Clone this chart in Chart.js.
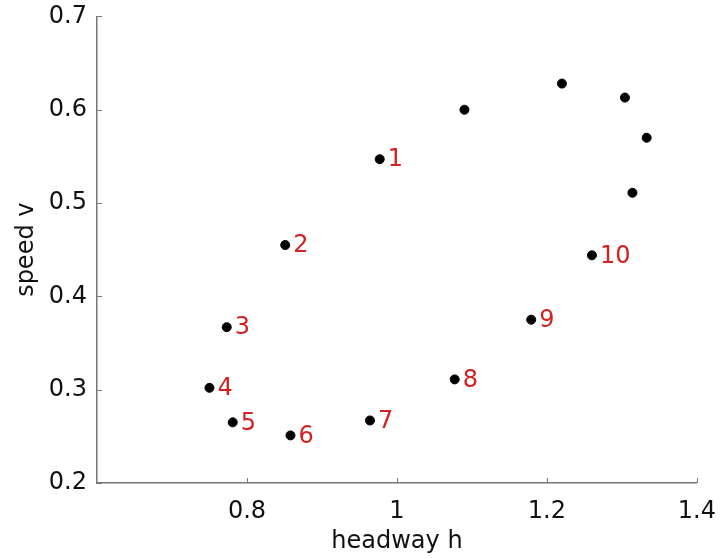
<!DOCTYPE html>
<html>
<head>
<meta charset="utf-8">
<script src="https://cdn.jsdelivr.net/npm/chart.js@4/dist/chart.umd.min.js"></script>
<style>
  html, body { margin: 0; padding: 0; background: #fff; }
  #wrap { width: 722px; height: 559px; position: relative; }
</style>
</head>
<body>
<div id="wrap"><canvas id="c" width="722" height="559"></canvas></div>
<script>
const headway = [0.977, 0.851, 0.773, 0.750, 0.781, 0.858, 0.964, 1.077, 1.179, 1.260, 1.314, 1.333, 1.304, 1.220, 1.090];
const speed   = [0.547, 0.455, 0.367, 0.302, 0.265, 0.251, 0.267, 0.311, 0.375, 0.444, 0.511, 0.570, 0.613, 0.628, 0.600];
const pointLabels = ["1", "2", "3", "4", "5", "6", "7", "8", "9", "10", "", "", "", "", ""];
const xTicks = [0.8, 1, 1.2, 1.4];
const yTicks = [0.2, 0.3, 0.4, 0.5, 0.6, 0.7];

const FONT = "'DejaVu Sans', sans-serif";
const FS = 24;

const labelPlugin = {
  id: 'pointLabels',
  afterDatasetsDraw(chart) {
    const ctx = chart.ctx;
    const meta = chart.getDatasetMeta(0);
    ctx.save();
    ctx.fillStyle = '#d42020';
    ctx.font = FS + 'px ' + FONT;
    ctx.textAlign = 'left';
    ctx.textBaseline = 'middle';
    meta.data.forEach((el, i) => {
      if (pointLabels[i]) ctx.fillText(pointLabels[i], el.x + 8, el.y + 1);
    });
    ctx.restore();
  }
};

const tickPlugin = {
  id: 'inTicks',
  afterDraw(chart) {
    const ctx = chart.ctx;
    const xs = chart.scales.x, ys = chart.scales.y;
    const ca = chart.chartArea;
    ctx.save();
    ctx.strokeStyle = '#777';
    ctx.lineWidth = 1;
    ctx.beginPath();
    xTicks.forEach(v => {
      const px = Math.round(xs.getPixelForValue(v)) + 0.5;
      ctx.moveTo(px, ca.bottom); ctx.lineTo(px, ca.bottom - 5);
    });
    yTicks.forEach(v => {
      const py = Math.round(ys.getPixelForValue(v)) + 0.5;
      ctx.moveTo(ca.left, py); ctx.lineTo(ca.left + 5, py);
    });
    ctx.stroke();
    ctx.restore();
  }
};

new Chart(document.getElementById('c'), {
  type: 'scatter',
  data: {
    datasets: [{
      data: headway.map((h, i) => ({ x: h, y: speed[i] })),
      backgroundColor: '#000',
      borderColor: '#000',
      pointRadius: 4.5,
      pointHoverRadius: 4.5
    }]
  },
  options: {
    responsive: false,
    animation: false,
    devicePixelRatio: 1,
    layout: { padding: { top: 11, right: 17, left: 0, bottom: 0 } },
    plugins: { legend: { display: false }, tooltip: { enabled: false } },
    scales: {
      x: {
        type: 'linear', min: 0.6, max: 1.4,
        afterBuildTicks(s) { s.ticks = xTicks.map(v => ({ value: v })); },
        afterFit(s) { s.height = 76; },
        grid: { display: false },
        border: { display: true, color: '#777', width: 1.5 },
        ticks: {
          font: { family: FONT, size: FS }, color: '#111', padding: 6,
          maxRotation: 0, autoSkip: false,
          callback: v => String(v)
        },
        title: { display: true, text: 'headway h', font: { family: FONT, size: FS }, color: '#111', padding: { top: 0, bottom: 3 } }
      },
      y: {
        type: 'linear', min: 0.2, max: 0.7,
        afterBuildTicks(s) { s.ticks = yTicks.map(v => ({ value: v })); },
        afterFit(s) { s.width = 97; },
        grid: { display: false },
        border: { display: true, color: '#777', width: 1.5 },
        ticks: {
          font: { family: FONT, size: FS }, color: '#111', padding: 2,
          callback: v => v.toFixed(1)
        },
        title: { display: true, text: 'speed v', font: { family: FONT, size: FS }, color: '#111', padding: { top: 12, bottom: 0 } }
      }
    }
  },
  plugins: [labelPlugin, tickPlugin]
});
</script>
</body>
</html>
